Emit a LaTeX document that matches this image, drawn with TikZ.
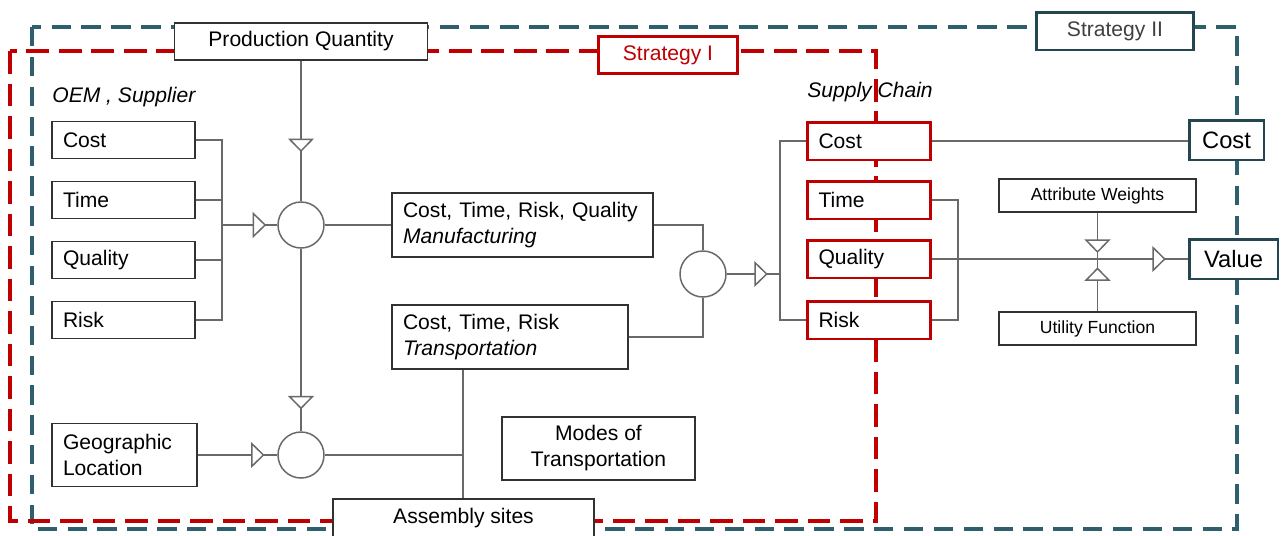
\documentclass[tikz,border=0pt]{standalone}
\usepackage{fontspec}
\setmainfont{Liberation Sans}
\usetikzlibrary{arrows.meta, decorations.markings}
\definecolor{stratred}{RGB}{192, 0, 0}
\definecolor{stratteal}{RGB}{47, 94, 108}
\definecolor{darkteal}{RGB}{36, 70, 80}
\definecolor{linegray}{RGB}{105, 105, 105}
\definecolor{boxgray}{RGB}{50, 50, 50}
\definecolor{textgray}{RGB}{64, 64, 64}
\newcommand{\diafont}{\fontsize{12}{14.8}\selectfont}
\newcommand{\diasmall}{\fontsize{10}{12}\selectfont}
\newcommand{\diabig}{\fontsize{13.5}{16}\selectfont}

\begin{document}
\begin{tikzpicture}[x=0.02cm, y=-0.02cm,
  conn/.style={draw=linegray, line width=0.85pt},
  tri/.style={postaction={decorate, decoration={markings,
      mark=at position #1 with {\arrow{Triangle[length=2.7mm, width=5.2mm, fill=white]}}}}},
  box/.style={draw=boxgray, fill=white, line width=0.7pt, inner xsep=0.22cm, inner ysep=0pt, align=left, font=\diafont},
  cbox/.style={draw=boxgray, fill=white, line width=0.7pt, inner sep=0pt, align=center, font=\diafont},
  scbox/.style={box, draw=stratred, line width=1.7pt, text width=2.02cm, minimum height=0.76cm},
  circ/.style={circle, draw=linegray, fill=white, line width=0.85pt, minimum size=0.92cm, inner sep=0pt}]
  \useasboundingbox (0,0) rectangle (1282,535);

  % Strategy frames
  \draw[stratteal, line width=1.9pt, dash pattern=on 11pt off 6pt] (32,27) rectangle (1237,529);
  \draw[stratred, line width=1.9pt, dash pattern=on 13pt off 5.5pt] (10,51) rectangle (876,521);
  \node[cbox, draw=stratred, line width=1.7pt, text=stratred, minimum width=2.78cm, minimum height=0.74cm] (stratI) at (668,55) {Strategy I};
  \node[cbox, draw=darkteal, line width=1.7pt, text=textgray, minimum width=3.14cm, minimum height=0.76cm] (stratII) at (1115,31) {Strategy II};

  % OEM, supplier inputs
  \node[font=\diafont\itshape, anchor=west, inner sep=0pt] (oem) at (52,97) {OEM , Supplier};
  \node[box, text width=2.42cm, minimum height=0.74cm] (oCost) at (123.5,140) {Cost};
  \node[box, text width=2.42cm, minimum height=0.74cm] (oTime) at (123.5,200) {Time};
  \node[box, text width=2.42cm, minimum height=0.74cm] (oQual) at (123.5,260) {Quality};
  \node[box, text width=2.42cm, minimum height=0.74cm] (oRisk) at (123.5,320) {Risk};
  \node[box, text width=2.46cm, minimum height=1.26cm] (geo) at (124.5,455) {Geographic\\Location};

  % Production, manufacturing, transportation
  \node[cbox, minimum width=5.06cm, minimum height=0.74cm] (pq) at (301,41.5) {Production Quantity};
  \node[circ] (c1) at (301,225) {};
  \node[circ] (c2) at (301,455) {};
  \node[box, text width=4.78cm, minimum height=1.28cm] (manuf) at (522.5,225) {Cost, Time, Risk, Quality\\\textit{Manufacturing}};
  \node[box, text width=4.28cm, minimum height=1.28cm] (trans) at (510,337) {Cost, Time, Risk\\\textit{Transportation}};
  \node[cbox, minimum width=3.86cm, minimum height=1.26cm] (modes) at (598.5,448.5) {Modes of\\Transportation};
  \node[cbox, minimum width=5.22cm, minimum height=0.76cm] (assembly) at (463.5,518) {Assembly sites};
  \node[circ] (c3) at (703,274) {};

  % Supply chain
  \node[font=\diafont\itshape, inner sep=0pt] (sclabel) at (870,92) {Supply Chain};
  \node[scbox] (scCost) at (869,141) {Cost};
  \node[scbox] (scTime) at (869,200) {Time};
  \node[scbox] (scQual) at (869,259) {Quality};
  \node[scbox] (scRisk) at (869,320) {Risk};

  % Value
  \node[cbox, font=\diasmall, minimum width=3.94cm, minimum height=0.66cm] (attr) at (1097.5,195.5) {Attribute Weights};
  \node[cbox, font=\diasmall, minimum width=3.94cm, minimum height=0.66cm] (util) at (1097.5,328.5) {Utility Function};
  \node[cbox, draw=darkteal, line width=1.7pt, font=\diabig, minimum width=1.5cm, minimum height=0.8cm] (costII) at (1226.5,140) {Cost};
  \node[cbox, draw=darkteal, line width=1.7pt, font=\diabig, minimum width=1.78cm, minimum height=0.8cm] (value) at (1233.5,259) {Value};

  % Connectors
  \coordinate (lbus) at (222,225);
  \coordinate (tjoin) at (463,455);
  \coordinate (sbus) at (780,274);
  \coordinate (rbus) at (958,259);
  \coordinate (wjoin) at (attr.south |- scQual.east);
  \draw[conn] (oCost.east) -| (lbus |- oRisk.east) -- (oRisk.east);
  \draw[conn] (oTime.east) -- (oTime.east -| lbus);
  \draw[conn] (oQual.east) -- (oQual.east -| lbus);
  \draw[conn, tri=0.8] (lbus) -- (c1.west);
  \draw[conn, tri=0.65] (pq.south) -- (c1.north);
  \draw[conn, tri=0.88] (c1.south) -- (c2.north);
  \draw[conn, tri=0.84] (geo.east) -- (c2.west);
  \draw[conn] (c1.east) -- (manuf.west);
  \draw[conn] (c2.east) -- (tjoin);
  \draw[conn] (trans.south -| tjoin) -- (assembly.north -| tjoin);
  \draw[conn] (manuf.east) -| (c3.north);
  \draw[conn] (trans.east) -| (c3.south);
  \draw[conn, tri=0.77] (c3.east) -- (sbus);
  \draw[conn] (scCost.west) -| (sbus |- scRisk.west) -- (scRisk.west);
  \draw[conn] (scCost.east) -- (scCost.east -| costII.west);
  \draw[conn] (scTime.east) -| (rbus |- scRisk.east) -- (scRisk.east);
  \draw[conn, tri=0.915] (scQual.east) -- (value.west);
  \draw[conn, tri=0.87] (attr.south) -- (wjoin);
  \draw[conn, tri=0.84] (util.north) -- (wjoin);
\end{tikzpicture}
\end{document}
